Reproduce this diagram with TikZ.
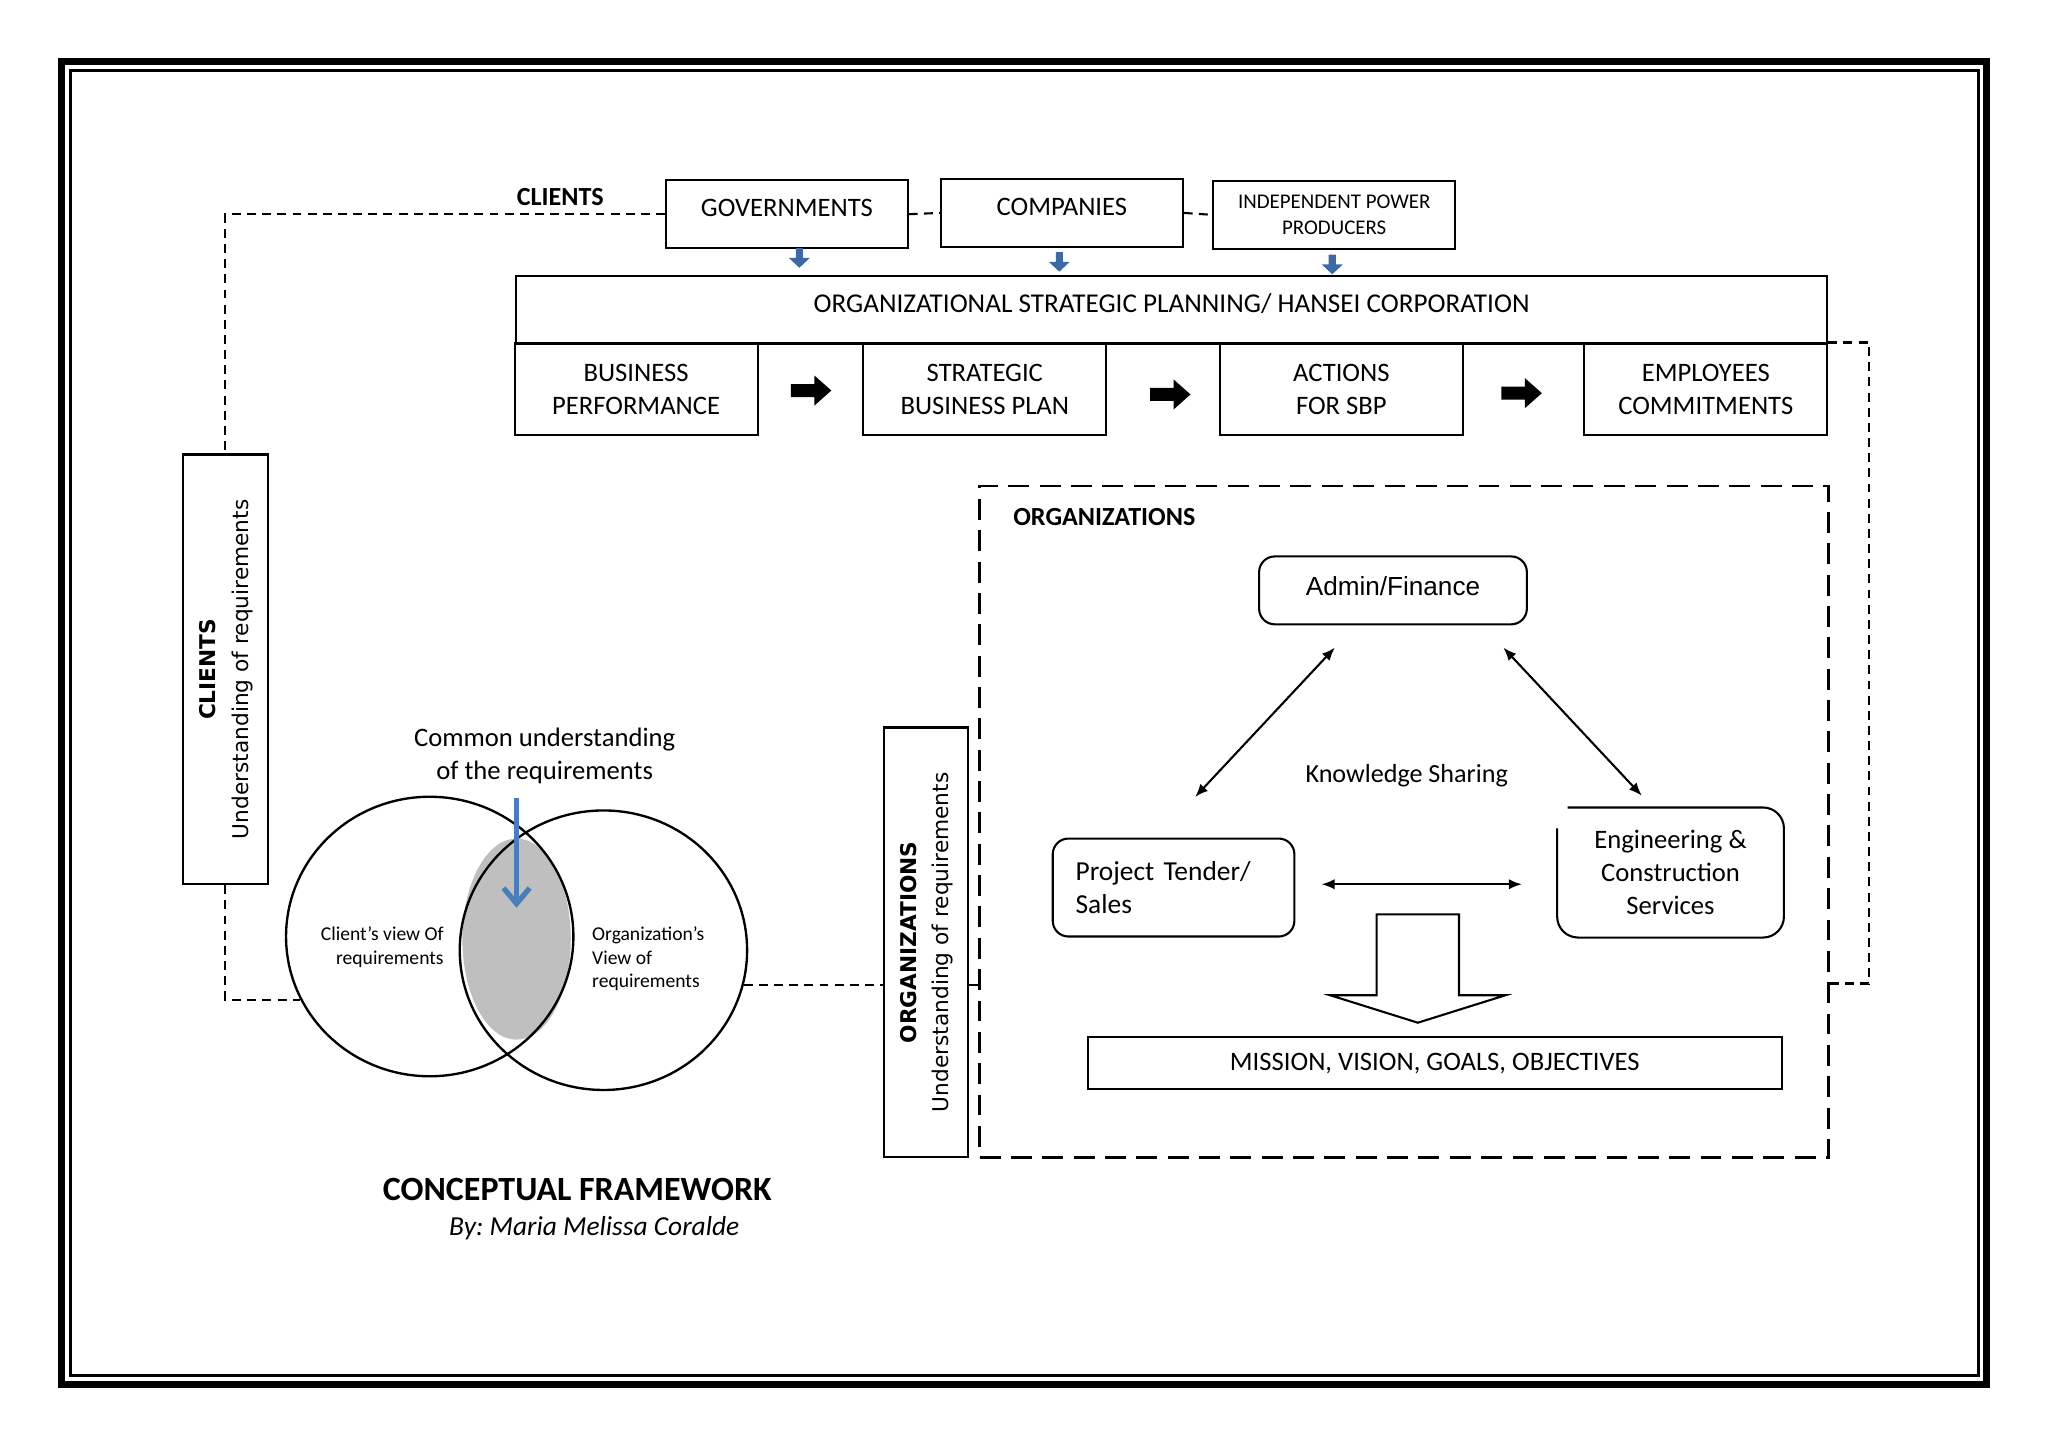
\documentclass[tikz,border=0pt]{standalone}
\usepackage{fontspec}
\usepackage{graphicx}
\setmainfont{Carlito}
\newfontfamily\arialfont{Liberation Sans}
\newfontfamily\verdanafont{DejaVu Sans}
\usetikzlibrary{arrows.meta,shapes.geometric}
\definecolor{arrowblue}{RGB}{62,106,163}
\definecolor{vennblue}{RGB}{74,126,187}
\definecolor{overlapgray}{RGB}{191,191,191}
\frenchspacing

\tikzset{
  cbox/.style={shape=rectangle, draw, line width=0.8pt, minimum width=92.5pt, align=center, font=\fontsize{10.2}{12.5}\selectfont},
  topbox/.style={cbox, minimum height=26pt, text depth=5pt},
  stepbox/.style={cbox, minimum width=93pt, minimum height=35pt},
  roundbox/.style={cbox, rounded corners=6pt},
  sidebox/.style={shape=rectangle, draw, line width=0.8pt, minimum width=32.5pt, minimum height=164.5pt, inner sep=0pt},
  dashline/.style={line width=0.8pt, dash pattern=on 3.4pt off 2.4pt},
  share/.style={line width=0.8pt, {Latex[length=5pt,width=4pt]}-{Latex[length=5pt,width=4pt]}},
  flowarrow/.pic={\fill (-15.5,-5) -- (2.5,-5) -- (2.5,-11.5) -- (15.5,0) -- (2.5,11.5) -- (2.5,5) -- (-15.5,5) -- cycle;},
  feedarrow/.pic={\fill[arrowblue] (-2.7,0) -- (2.7,0) -- (2.7,7.5) -- (8,7.5) -- (0,15) -- (-8,7.5) -- (-2.7,7.5) -- cycle;},
  goalarrow/.pic={\draw[line width=0.8pt, fill=white] (-31.5,0) -- (31.5,0) -- (31.5,62) -- (67,62) -- (0,83) -- (-67,62) -- (-31.5,62) -- cycle;}
}

\begin{document}
\begin{tikzpicture}[x=0.5pt, y=-0.5pt]
\useasboundingbox (0,0) rectangle (1568,1109);
\draw[line width=2.7pt] (47,47) rectangle (1521,1060);
\draw[line width=1.15pt] (54,54) rectangle (1514.5,1053);

\node[font=\bfseries] (clientstag) at (429,151) {CLIENTS};
\node[topbox] (gov) at (602.5,164) {GOVERNMENTS};
\node[topbox] (comp) at (813,163) {COMPANIES};
\node[cbox, minimum height=26pt, font=\fontsize{8}{10}\selectfont] (ipp) at (1021.5,164.5) {INDEPENDENT POWER\\PRODUCERS};
\node[topbox, minimum width=502pt, font=\fontsize{10.4}{12.5}\selectfont] (plan) at (897,237) {ORGANIZATIONAL STRATEGIC PLANNING/ HANSEI CORPORATION};
\node[stepbox] (bp) at (487,298) {BUSINESS\\PERFORMANCE};
\node[stepbox] (sbp) at (754,298) {STRATEGIC\\BUSINESS PLAN};
\node[stepbox] (act) at (1027,298) {ACTIONS\\FOR SBP};
\node[stepbox] (emp) at (1306,298) {EMPLOYEES\\COMMITMENTS};
\pic at (612,190) {feedarrow};
\pic at (811,193) {feedarrow};
\pic at (1020,195) {feedarrow};
\pic at (621,299) {flowarrow};
\pic at (896,302) {flowarrow};
\pic at (1165,301) {flowarrow};

\node[draw, line width=1pt, dash pattern=on 8pt off 4pt, minimum width=325pt, minimum height=257pt] (orgbox) at (1075,629) {};
\node[font=\bfseries] (orgstag) at (845.5,396) {ORGANIZATIONS};
\node[roundbox, minimum width=102.5pt, minimum height=26pt, text depth=3pt, font=\arialfont\fontsize{10}{12}\selectfont] (admin) at (1066.5,452) {Admin/Finance};
\node (ks) at (1077,594) {Knowledge Sharing};
\node[roundbox, minimum height=37.5pt, text width=75pt, align=left, font=\fontsize{10.5}{12.5}\selectfont] (proj) at (898.5,679.5) {Project Tender/\\Sales};
\node[cbox, draw=none, minimum width=86pt, minimum height=49pt] (eng) at (1279,668) {Engineering \&\\Construction\\Services};
\draw[line width=0.8pt, rounded corners=8pt] ([yshift=-8pt]eng.north west) -- (eng.south west) -- (eng.south east) -- (eng.north east) -- ([xshift=4pt]eng.north west);
\pic at (1085.5,700) {goalarrow};
\node[cbox, minimum width=265.5pt, minimum height=20pt] (mission) at (1098.5,814) {MISSION, VISION, GOALS, OBJECTIVES};

\node[sidebox] (clientsreq) at (172.5,512.5) {\rotatebox{90}{\verdanafont\fontsize{8.3}{12.5}\selectfont\begin{tabular}{@{}c@{}}\textbf{CLIENTS}\\Understanding of requirements\end{tabular}}};
\node[sidebox, minimum width=32pt] (orgsreq) at (709,721.5) {\rotatebox{90}{\verdanafont\fontsize{8.3}{12.5}\selectfont\begin{tabular}{@{}c@{}}\textbf{ORGANIZATIONS}\\Understanding of requirements\end{tabular}}};

\node[ellipse, fill=overlapgray, minimum width=41.5pt, minimum height=77pt, inner sep=0pt] (overlap) at (395.5,719) {};
\node[ellipse, draw, line width=0.9pt, minimum width=110pt, minimum height=107pt, inner sep=0pt] (clientview) at (329,717) {};
\node[ellipse, draw, line width=0.9pt, minimum width=110pt, minimum height=107pt, inner sep=0pt] (orgview) at (462,727.5) {};
\node[anchor=east, align=right, inner sep=0pt, font=\fontsize{7.5}{9}\selectfont] (clientlbl) at (340,725) {Client’s view Of\\requirements};
\node[anchor=west, align=left, inner sep=0pt, font=\fontsize{7.5}{9}\selectfont] (orglbl) at (453,734) {Organization’s\\View of\\requirements};
\node[align=center, font=\fontsize{10.2}{12.5}\selectfont] (common) at (417,578.5) {Common understanding\\of the requirements};
\node[font=\fontsize{13}{15}\selectfont\bfseries] (title) at (442,911) {CONCEPTUAL FRAMEWORK};
\node[font=\fontsize{10.5}{12.5}\selectfont\itshape] (author) at (455,940) {By: Maria Melissa Coralde};

\coordinate (rturn) at (1431,753);
\draw[dashline] (gov.west) -| (clientsreq.north);
\draw[dashline] (gov.east) -- (comp.west);
\draw[dashline] (comp.east) -- (ipp.west);
\draw[dashline] (clientsreq.south) |- (clientview.206);
\draw[dashline] (orgview.346) -- (orgview.346 -| orgsreq.west);
\draw[line width=0.8pt] (orgsreq.east |- orgview.346) -- (orgbox.west |- orgview.346);
\draw[dashline] (emp.north east) -| (rturn) -- (rturn -| orgbox.east);
\draw[share] ([xshift=-22.25pt,yshift=-8.5pt]admin.south) -- ([xshift=8.25pt,yshift=15.5pt]proj.north);
\draw[share] ([xshift=42.25pt,yshift=-8.5pt]admin.south) -- ([xshift=-11pt,yshift=4.5pt]eng.north);
\draw[share] ([xshift=10pt,yshift=1.25pt]proj.east) -- ([xshift=-13.5pt,yshift=-4.5pt]eng.west);
\draw[line width=2pt, vennblue, -{Straight Barb[length=6pt,width=10pt]}] ([yshift=-2pt]overlap.north |- common.south) -- ([yshift=12pt]overlap.center);
\end{tikzpicture}
\end{document}
